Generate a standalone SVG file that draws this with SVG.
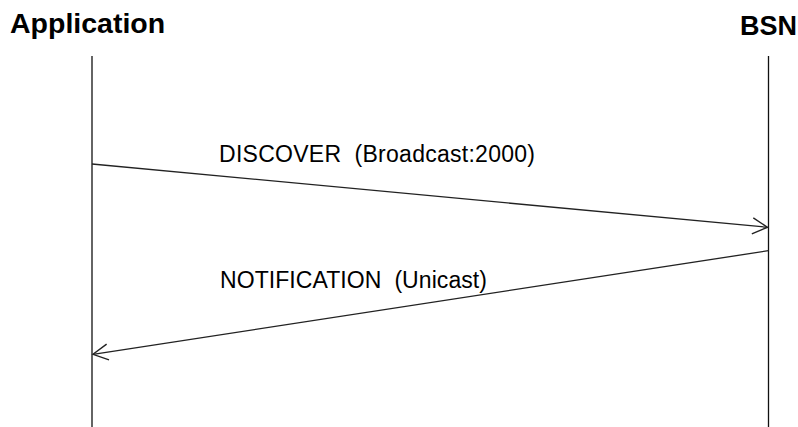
<svg xmlns="http://www.w3.org/2000/svg" width="798" height="427" viewBox="0 0 798 427">
  <style>
    .actor { font-family: "Liberation Sans", Arial, sans-serif; font-weight: bold; fill: #000; }
    .msg { font-family: "Liberation Sans", Arial, sans-serif; font-size: 23px; fill: #000; white-space: pre; }
    .lifeline { stroke: #111; stroke-width: 1.3; fill: none; }
    .arrow { stroke: #222; stroke-width: 1.3; fill: none; marker-end: url(#open); }
  </style>
  <defs>
    <marker id="open" markerUnits="userSpaceOnUse" markerWidth="20" markerHeight="20" viewBox="-16 -10 20 20" refX="0" refY="0" orient="auto">
      <path d="M-15,-8 L0,0 L-15,8" fill="none" stroke="#222" stroke-width="1.4"/>
    </marker>
  </defs>
  <rect width="798" height="427" fill="#fff"/>

  <g id="application">
    <text class="actor" x="10" y="33" font-size="28.5">Application</text>
    <line class="lifeline" x1="92" y1="56" x2="92" y2="427"/>
  </g>

  <g id="bsn">
    <text class="actor" x="740" y="35" font-size="27">BSN</text>
    <line class="lifeline" x1="768.5" y1="56" x2="768.5" y2="427"/>
  </g>

  <g id="connectors">
    <g id="discover">
      <line class="arrow" x1="92" y1="164" x2="767.5" y2="227.3"/>
      <text class="msg" x="219" y="162" xml:space="preserve" textLength="316" lengthAdjust="spacing">DISCOVER  (Broadcast:2000)</text>
    </g>
    <g id="notification">
      <line class="arrow" x1="768.5" y1="250.7" x2="93" y2="354.3"/>
      <text class="msg" x="220" y="288" xml:space="preserve" textLength="267" lengthAdjust="spacing">NOTIFICATION  (Unicast)</text>
    </g>
  </g>
</svg>
